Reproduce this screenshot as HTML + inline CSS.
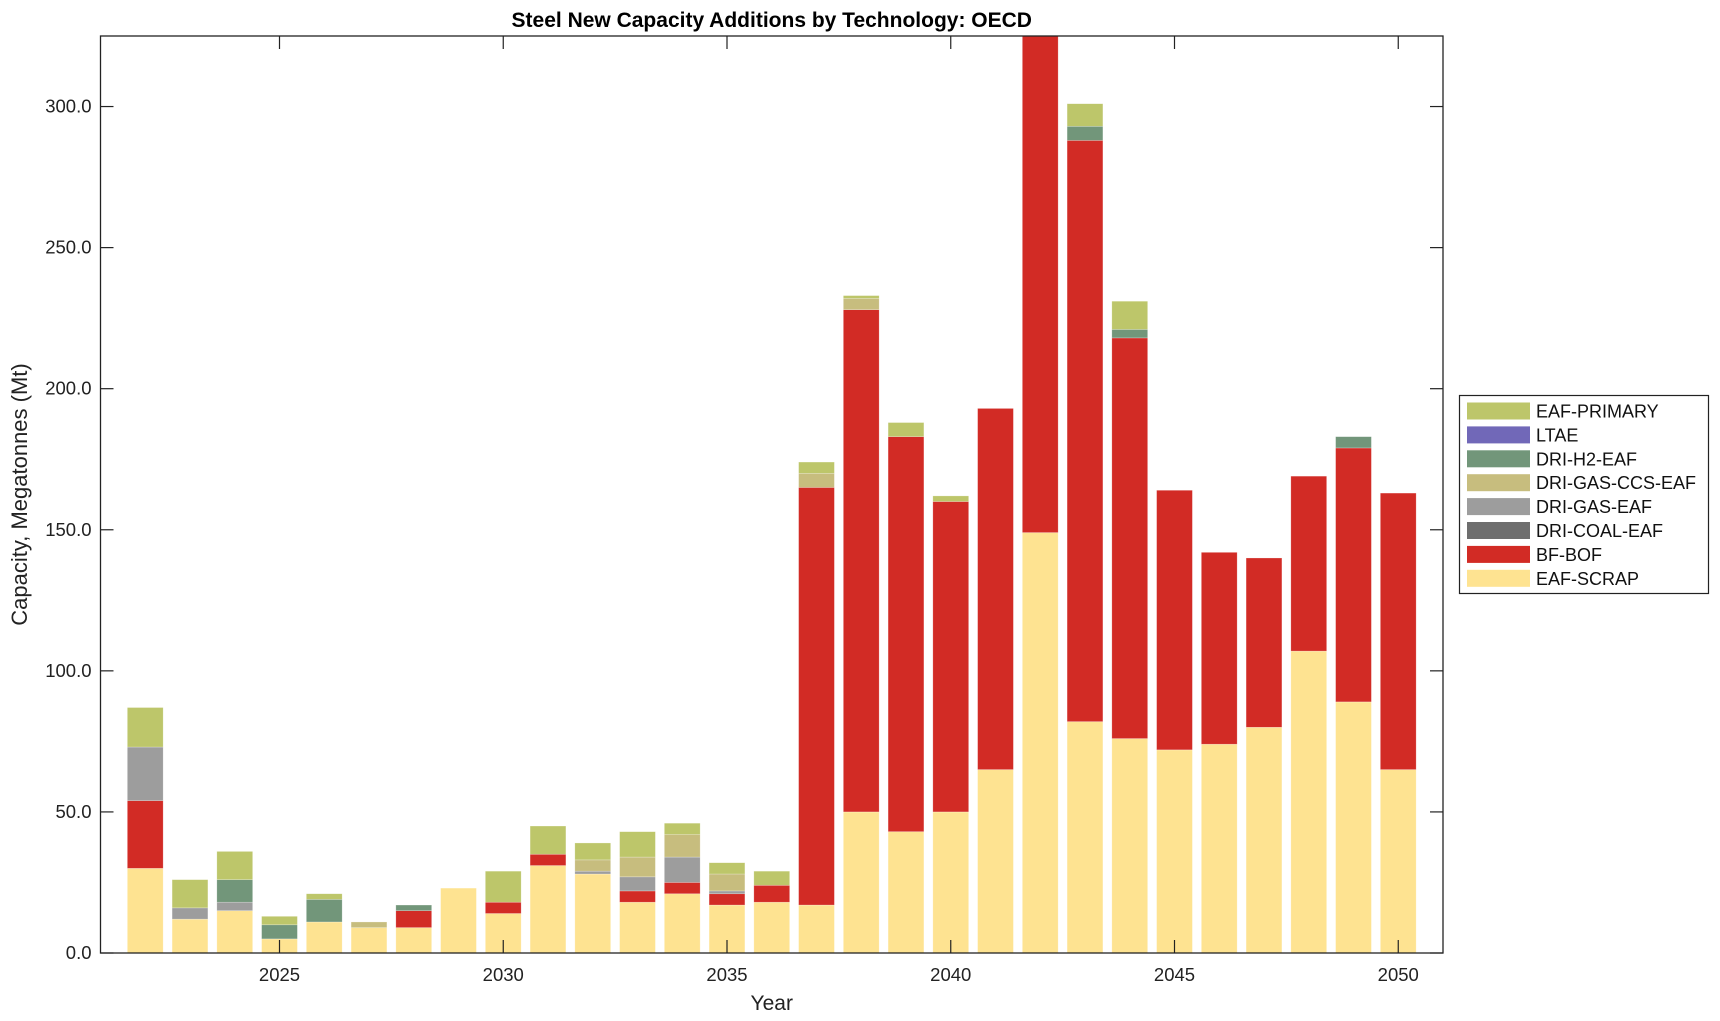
<!DOCTYPE html>
<html><head><meta charset="utf-8"><style>
html,body{margin:0;padding:0;background:#fff;}
svg{display:block;font-family:"Liberation Sans",Arial,sans-serif;}
</style></head><body>
<svg id="s" width="1720" height="1021" xmlns="http://www.w3.org/2000/svg"></svg>
<script>
const s=document.getElementById('s');
const L=100.5,R=1443,T=36,B=953,ymax=325;
const X=y=>L+(y-2021)*(R-L)/30;
const Y=v=>B-v*(B-T)/ymax;
const cols={P:'#bdc66a',LT:'#7168b8',H:'#72967a',C:'#c7bd7e',G:'#9d9d9d',CO:'#6e6e6e',BF:'#d22b25',S:'#fee391'};
const data={
2022:{S:30,BF:24,G:19,P:14},2023:{S:12,G:4,P:10},2024:{S:15,G:3,H:8,P:10},
2025:{S:5,H:5,P:3},2026:{S:11,H:8,P:2},2027:{S:9,C:2},2028:{S:9,BF:6,H:2},
2029:{S:23},2030:{S:14,BF:4,P:11},2031:{S:31,BF:4,P:10},2032:{S:28,G:1,C:4,P:6},
2033:{S:18,BF:4,G:5,C:7,P:9},2034:{S:21,BF:4,G:9,C:8,P:4},2035:{S:17,BF:4,G:1,C:6,P:4},
2036:{S:18,BF:6,P:5},2037:{S:17,BF:148,C:5,P:4},2038:{S:50,BF:178,C:4,P:1},
2039:{S:43,BF:140,P:5},2040:{S:50,BF:110,P:2},2041:{S:65,BF:128},2042:{S:149,BF:200},
2043:{S:82,BF:206,H:5,P:8},2044:{S:76,BF:142,H:3,P:10},2045:{S:72,BF:92},2046:{S:74,BF:68},
2047:{S:80,BF:60},2048:{S:107,BF:62},2049:{S:89,BF:90,H:4},2050:{S:65,BF:98}};
const order=['S','BF','CO','G','C','H','LT','P'];
let h='<defs><clipPath id="c"><rect x="'+L+'" y="'+T+'" width="'+(R-L)+'" height="'+(B-T)+'"/></clipPath></defs><g clip-path="url(#c)">';
const bw=0.8*(R-L)/30;
for(const yr in data){let base=0;const d=data[yr];
 for(const k of order){if(!d[k])continue;const y0=Y(base),y1=Y(base+d[k]);
  h+=`<rect x="${X(+yr)-bw/2}" y="${y1}" width="${bw}" height="${y0-y1}" fill="${cols[k]}" stroke="#fff" stroke-opacity="0.4" stroke-width="0.6"/>`;base+=d[k];}}
h+='</g>';
h+=`<rect x="${L}" y="${T}" width="${R-L}" height="${B-T}" fill="none" stroke="#222" stroke-width="1.3"/>`;
for(let v=0;v<=300;v+=50){const y=Y(v);
 h+=`<line x1="${L}" x2="${L+13}" y1="${y}" y2="${y}" stroke="#222" stroke-width="1.2"/><line x1="${R}" x2="${R-13}" y1="${y}" y2="${y}" stroke="#222" stroke-width="1.2"/>`;
 h+=`<text x="${L-9}" y="${y+6}" text-anchor="end" font-size="18.5" fill="#222">${v.toFixed(1)}</text>`;}
for(let yr=2025;yr<=2050;yr+=5){const x=X(yr);
 h+=`<line x1="${x}" x2="${x}" y1="${B}" y2="${B-13}" stroke="#222" stroke-width="1.2"/><line x1="${x}" x2="${x}" y1="${T}" y2="${T+13}" stroke="#222" stroke-width="1.2"/>`;
 h+=`<text x="${x}" y="${B+28}" text-anchor="middle" font-size="18.5" fill="#222">${yr}</text>`;}
h+=`<text x="${(L+R)/2}" y="${B+57}" text-anchor="middle" font-size="21" fill="#222">Year</text>`;
h+=`<text transform="translate(27,${(T+B)/2}) rotate(-90)" text-anchor="middle" font-size="22" fill="#222">Capacity, Megatonnes (Mt)</text>`;
h+=`<text x="${(L+R)/2}" y="27" text-anchor="middle" font-size="21" font-weight="bold" fill="#000">Steel New Capacity Additions by Technology: OECD</text>`;
h+=`<rect x="1459.5" y="395.5" width="249" height="198" fill="#fff" stroke="#222" stroke-width="1.2"/>`;
const leg=[['P','EAF-PRIMARY'],['LT','LTAE'],['H','DRI-H2-EAF'],['C','DRI-GAS-CCS-EAF'],['G','DRI-GAS-EAF'],['CO','DRI-COAL-EAF'],['BF','BF-BOF'],['S','EAF-SCRAP']];
leg.forEach((e,i)=>{const cy=411+i*23.9;
 h+=`<rect x="1467" y="${cy-8.5}" width="63" height="17" fill="${cols[e[0]]}"/>`;
 h+=`<text x="1536" y="${cy+6.5}" font-size="18" fill="#111">${e[1]}</text>`;});
s.innerHTML=h;
</script>
</body></html>
